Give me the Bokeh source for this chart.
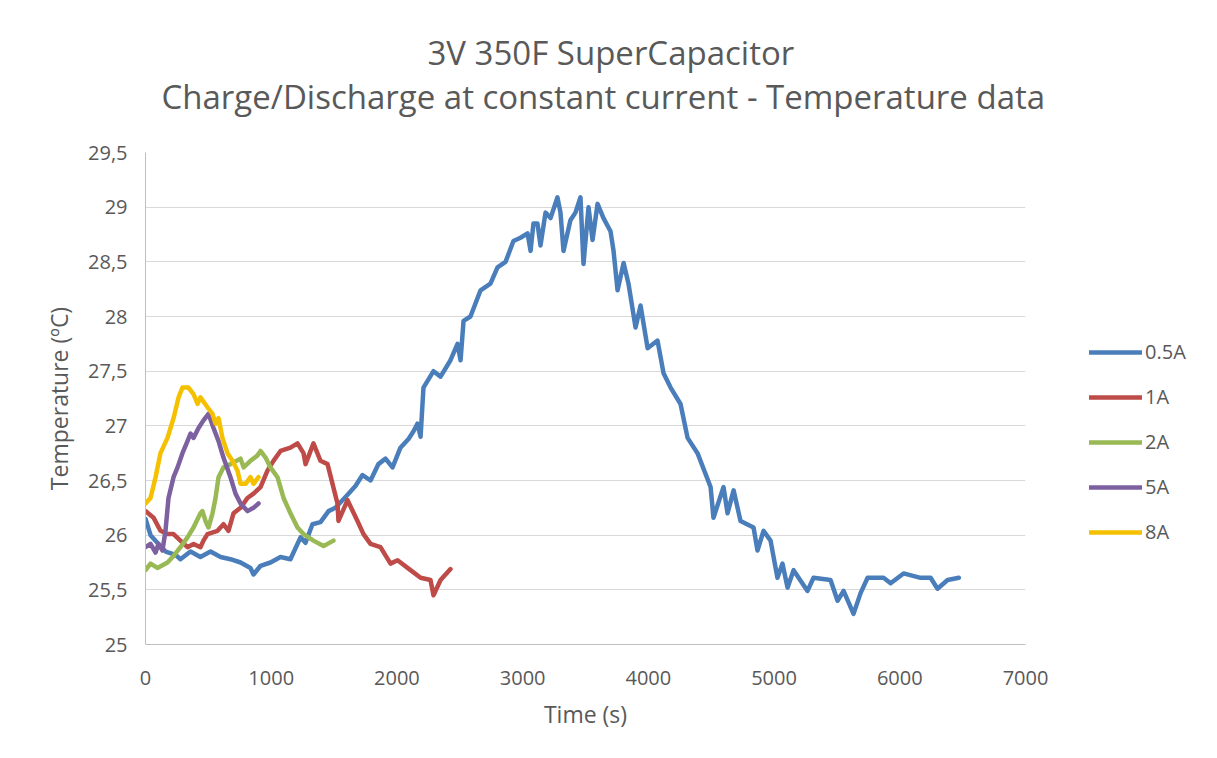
from bokeh.plotting import figure
from bokeh.models import Range1d, FixedTicker, Legend, LegendItem, Title
from bokeh.embed import file_html
from bokeh.resources import INLINE

# ---- data ----
t_05 = [0, 40, 103, 160, 239, 278, 358, 437, 517, 597, 676, 756, 835, 859, 915, 994, 1074, 1153,
        1193, 1233, 1273, 1328, 1392, 1456, 1511, 1591, 1670, 1726, 1790, 1853, 1909, 1965, 2028,
        2092, 2132, 2164, 2188, 2211, 2291, 2347, 2426, 2482, 2506, 2530, 2585, 2665, 2744, 2800,
        2864, 2927, 2983, 3039, 3063, 3086, 3118, 3142, 3182, 3222, 3277, 3301, 3325, 3380, 3420,
        3460, 3484, 3524, 3556, 3596, 3643, 3699, 3723, 3755, 3803, 3842, 3898, 3938, 3994, 4073,
        4121, 4177, 4256, 4312, 4391, 4495, 4518, 4598, 4630, 4678, 4733, 4837, 4868, 4916, 4972,
        5027, 5067, 5107, 5155, 5266, 5314, 5449, 5505, 5553, 5632, 5688, 5744, 5871, 5927, 6030,
        6165, 6245, 6300, 6380, 6470]
T_05 = [26.15, 26.0, 25.92, 25.85, 25.82, 25.78, 25.85, 25.8, 25.85, 25.8, 25.78, 25.75, 25.7, 25.64,
        25.72, 25.75, 25.8, 25.78, 25.88, 25.98, 25.93, 26.1, 26.12, 26.22, 26.25, 26.35, 26.45,
        26.55, 26.5, 26.65, 26.7, 26.62, 26.8, 26.88, 26.95, 27.02, 26.9, 27.35, 27.5, 27.45, 27.6,
        27.75, 27.6, 27.96, 28.0, 28.24, 28.3, 28.45, 28.5, 28.69, 28.72, 28.76, 28.6, 28.85, 28.85,
        28.65, 28.95, 28.9, 29.09, 28.95, 28.6, 28.88, 28.95, 29.09, 28.48, 29.0, 28.7, 29.03, 28.9,
        28.78, 28.6, 28.24, 28.49, 28.3, 27.9, 28.1, 27.71, 27.78, 27.48, 27.35, 27.2, 26.89, 26.75,
        26.44, 26.16, 26.44, 26.2, 26.41, 26.13, 26.07, 25.86, 26.04, 25.95, 25.61, 25.74, 25.52,
        25.68, 25.49, 25.61, 25.59, 25.40, 25.49, 25.28, 25.47, 25.61, 25.61, 25.56, 25.65, 25.61,
        25.61, 25.51, 25.59, 25.61]

t_1 = [0, 64, 119, 175, 223, 278, 334, 382, 437, 461, 493, 573, 620, 660, 700, 756, 811, 859, 915,
       970, 1018, 1074, 1153, 1209, 1257, 1273, 1336, 1392, 1448, 1527, 1535, 1607, 1686, 1734,
       1790, 1869, 1949, 2005, 2108, 2188, 2267, 2291, 2347, 2426]
T_1 = [26.22, 26.16, 26.04, 26.01, 26.01, 25.95, 25.89, 25.92, 25.89, 25.95, 26.01, 26.04, 26.1,
       26.04, 26.2, 26.25, 26.34, 26.38, 26.44, 26.59, 26.68, 26.77, 26.8, 26.84, 26.75, 26.65,
       26.84, 26.68, 26.65, 26.29, 26.13, 26.32, 26.13, 26.01, 25.92, 25.89, 25.74, 25.77, 25.68,
       25.61, 25.59, 25.45, 25.59, 25.69]

t_2 = [0, 40, 95, 175, 223, 278, 334, 382, 437, 453, 477, 501, 533, 557, 581, 620, 676, 756, 780,
       835, 891, 915, 955, 994, 1050, 1098, 1153, 1209, 1257, 1336, 1416, 1495]
T_2 = [25.68, 25.74, 25.70, 25.75, 25.81, 25.89, 25.98, 26.07, 26.2, 26.22, 26.13, 26.07, 26.2,
       26.34, 26.53, 26.62, 26.65, 26.7, 26.62, 26.68, 26.73, 26.77, 26.71, 26.62, 26.53, 26.34,
       26.2, 26.07, 26.01, 25.95, 25.9, 25.95]

t_5 = [0, 40, 80, 103, 135, 159, 183, 223, 255, 294, 334, 358, 382, 422, 461, 501, 541, 581, 620,
       676, 716, 756, 811, 859, 899]
T_5 = [25.89, 25.92, 25.84, 25.92, 25.86, 26.04, 26.34, 26.53, 26.62, 26.75, 26.86, 26.93, 26.89,
       26.98, 27.05, 27.11, 26.98, 26.86, 26.71, 26.53, 26.38, 26.29, 26.22, 26.25, 26.29]

t_8 = [0, 40, 80, 119, 175, 223, 263, 294, 342, 382, 414, 437, 493, 533, 557, 581, 612, 652, 692,
       732, 756, 796, 835, 859, 899]
T_8 = [26.29, 26.34, 26.53, 26.75, 26.89, 27.07, 27.26, 27.35, 27.35, 27.29, 27.2, 27.26, 27.17,
       27.11, 27.02, 27.07, 26.89, 26.75, 26.68, 26.59, 26.47, 26.47, 26.53, 26.47, 26.53]

series_names = ["0.5A", "1A", "2A", "5A", "8A"]
series_colors = ["#4A7EBB", "#BE4B48", "#98B954", "#7D60A0", "#F5C000"]

x_ticks = [0, 1000, 2000, 3000, 4000, 5000, 6000, 7000]
y_ticks = [25, 25.5, 26, 26.5, 27, 27.5, 28, 28.5, 29, 29.5]
y_tick_labels = ["25", "25,5", "26", "26,5", "27", "27,5", "28", "28,5", "29", "29,5"]

FONT = "Open Sans"
GREY = "#595959"

p = figure(frame_width=880, frame_height=492, output_backend="svg", toolbar_location=None,
           x_range=Range1d(0, 7000), y_range=Range1d(25, 29.5),
           min_border_left=145, min_border_right=0, min_border_top=152, min_border_bottom=98)
p.outline_line_color = None
p.background_fill_color = "white"
p.border_fill_color = "white"

# titles (bottom line added first so it sits nearest the plot)
t2 = Title(text="Charge/Discharge at constant current - Temperature data", align="left",
           text_font=FONT, text_font_size="33px", text_font_style="normal", text_color=GREY,
           offset=16, standoff=67)
t1 = Title(text="3V 350F SuperCapacitor", align="left",
           text_font=FONT, text_font_size="33px", text_font_style="normal", text_color=GREY,
           offset=282, standoff=-73)
p.add_layout(t2, "above")
p.add_layout(t1, "above")

# axes
p.xaxis.ticker = FixedTicker(ticks=x_ticks)
p.yaxis.ticker = FixedTicker(ticks=y_ticks)
p.yaxis.major_label_overrides = {v: s for v, s in zip(y_ticks, y_tick_labels)}
for ax in (p.xaxis[0], p.yaxis[0]):
    ax.major_tick_line_color = None
    ax.minor_tick_line_color = None
    ax.axis_line_color = "#BFBFBF"
    ax.axis_line_width = 1
    ax.major_label_text_font = FONT
    ax.major_label_text_font_size = "20px"
    ax.major_label_text_color = GREY
    ax.axis_label_text_font = FONT
    ax.axis_label_text_font_size = "23px"
    ax.axis_label_text_font_style = "normal"
    ax.axis_label_text_color = GREY
p.xaxis.axis_label = "Time (s)"
p.yaxis.axis_label = "Temperature (ºC)"
p.xaxis.major_label_standoff = 20
p.xaxis.axis_label_standoff = 10
p.yaxis.major_label_standoff = 12
p.yaxis.axis_label_standoff = 10

p.xgrid.grid_line_color = None
p.ygrid.grid_line_color = "#D9D9D9"
p.ygrid.grid_line_width = 1

all_t = [t_05, t_1, t_2, t_5, t_8]
all_T = [T_05, T_1, T_2, T_5, T_8]
items = []
for name, col, tt, TT in zip(series_names, series_colors, all_t, all_T):
    r = p.line(tt, TT, line_color=col, line_width=4.5, line_join="round", line_cap="round")
    items.append(LegendItem(label=name, renderers=[r]))

legend = Legend(items=items, location=(64, 99), orientation="vertical",
                background_fill_alpha=0, border_line_color=None,
                label_text_font=FONT, label_text_font_size="20px", label_text_color=GREY,
                glyph_width=53, glyph_height=20, label_standoff=3, spacing=18,
                padding=0, margin=0, label_height=20)
p.add_layout(legend, "right")

open("out.html", "w").write(file_html(p, INLINE))
